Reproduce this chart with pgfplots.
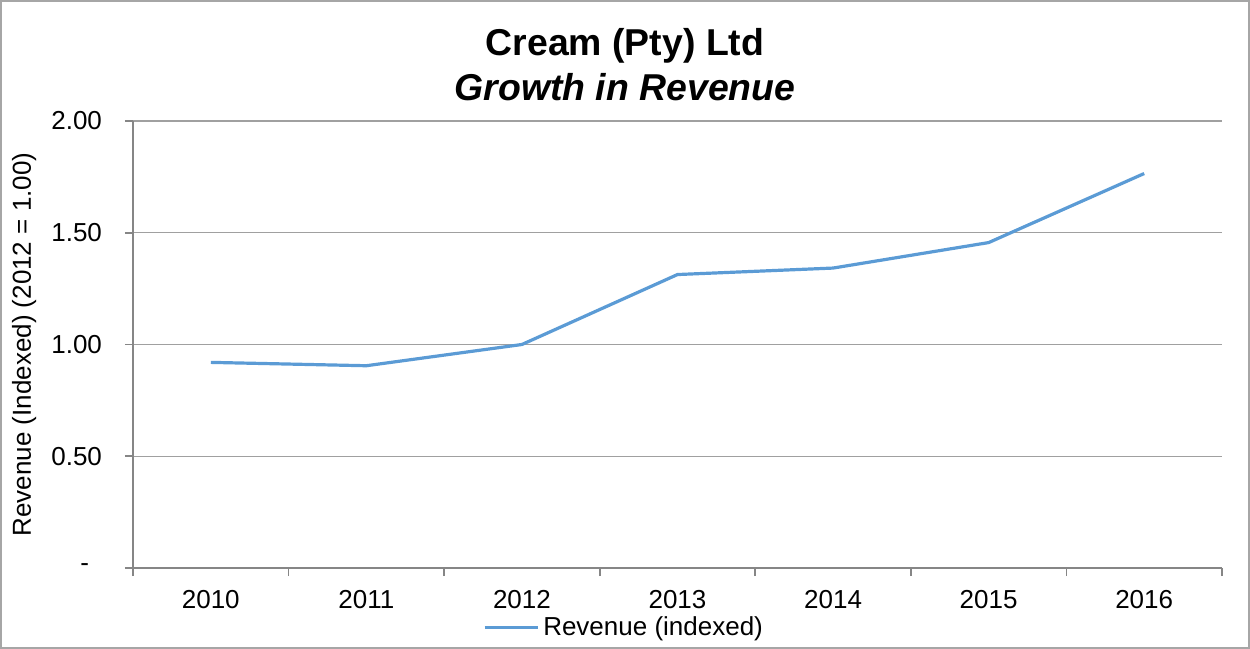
\documentclass[border=0pt]{standalone}
\usepackage{pgfplots}
\pgfplotsset{compat=1.18}
\usepackage{fontspec}
\setmainfont{Liberation Sans}
\definecolor{excelblue}{HTML}{5B9BD5}
\definecolor{axisgray}{HTML}{868686}
\definecolor{gridgray}{HTML}{A0A0A0}
\definecolor{framegray}{HTML}{A6A6A6}
\begin{document}
\begin{tikzpicture}
\useasboundingbox (-66.5pt,-40.5pt) rectangle (558.5pt,284pt);
\draw[framegray, line width=0.8pt] (-66pt,-40pt) rectangle (558pt,283.5pt);
\begin{axis}[
  at={(0pt,0pt)}, anchor=south west,
  scale only axis,
  width=544.5pt, height=223.5pt,
  xmin=-0.5, xmax=6.5,
  ymin=0, ymax=2,
  axis lines*=left,
  axis line style={axisgray, line width=1pt},
  ytick={0,0.5,1,1.5,2},
  yticklabels={-\hspace*{6.5pt},0.50,1.00,1.50,2.00},
  xtick={0,1,2,3,4,5,6},
  xticklabels={2010,2011,2012,2013,2014,2015,2016},
  minor xtick={-0.5,0.5,1.5,2.5,3.5,4.5,5.5,6.5},
  major x tick style={draw=none},
  minor x tick style={axisgray, line width=0.8pt},
  major y tick style={axisgray, line width=0.8pt},
  tick align=outside,
  major tick length=4pt,
  minor tick length=4pt,
  ymajorgrids=true,
  major grid style={gridgray, line width=0.6pt},
  ticklabel style={font=\fontsize{13}{15.6}\selectfont, text=black},
  yticklabel style={anchor=east, xshift=-8pt},
  xticklabel style={yshift=-3.5pt},
  ylabel={Revenue (Indexed) (2012 = 1.00)},
  ylabel style={at={(axis description cs:-0.1000,0.5)}, anchor=center, font=\fontsize{13}{15.6}\selectfont},
  legend style={at={(axis description cs:0.4518,-0.134)}, anchor=center, draw=none, fill=none, font=\fontsize{13}{15.6}\selectfont, inner sep=0pt},
  legend image code/.code={\draw[#1, line width=1.6pt] (0pt,0pt) -- (26.5pt,0pt);},
  clip=false,
]
\addplot[excelblue, line width=1.6pt, line join=round] coordinates {
  (0,0.920) (1,0.905) (2,1.000) (3,1.313) (4,1.342) (5,1.456) (6,1.765)
};
\addlegendentry{Revenue (indexed)}
\end{axis}
\node[anchor=base, font=\fontsize{18.7}{22}\selectfont\bfseries] at (246pt,256pt) {Cream (Pty) Ltd};
\node[anchor=base, font=\fontsize{18.7}{22}\selectfont\bfseries\itshape] at (246pt,233.5pt) {Growth in Revenue};
\end{tikzpicture}
\end{document}
